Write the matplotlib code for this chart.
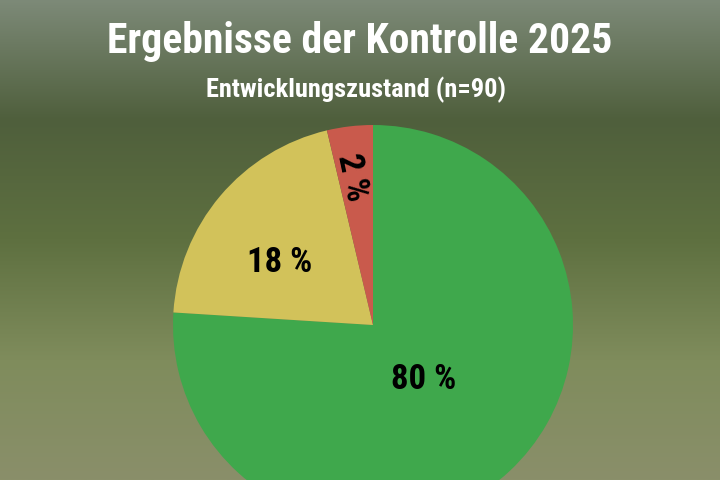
import matplotlib
matplotlib.use("Agg")
import matplotlib.pyplot as plt
import numpy as np
from matplotlib.colors import LinearSegmentedColormap
from matplotlib import font_manager

title = "Ergebnisse der Kontrolle 2025"
subtitle = "Entwicklungszustand (n=90)"
categories = ["gut", "mittel", "schlecht"]
labels = ["80 %", "18 %", "2 %"]
# slice shares as drawn in the reference graphic
values = [76, 20.3, 3.7]
colors = ["#3fa84c", "#d2c25a", "#c95a4c"]

names = {f.name for f in font_manager.fontManager.ttflist}
cond = [n for n in ["Liberation Sans Narrow", "DejaVu Sans Condensed", "Roboto Condensed"] if n in names]
fam = cond + ["DejaVu Sans"]
stretch = "condensed"

fig = plt.figure(figsize=(7.2, 4.81), dpi=100)
bg = fig.add_axes([0, 0, 1, 1])
cmap = LinearSegmentedColormap.from_list("bg", ["#7d8a78", "#4f5f3c", "#5e7040", "#7f8c5c", "#8a8f6a"])
grad = np.linspace(0, 1, 256).reshape(-1, 1)
bg.imshow(grad, aspect="auto", cmap=cmap, extent=[0, 1, 0, 1], origin="upper")
bg.axis("off")

ax = fig.add_axes([0, 0, 1, 1])
ax.pie(values, colors=colors, startangle=90, counterclock=False, radius=1.0,
       wedgeprops=dict(linewidth=0))
ax.set_xlim(-373/200, (720-373)/200)
ax.set_ylim(-155/200, 326/200)
ax.set_aspect("auto")
ax.axis("off")

pos = [(0.255, -0.27, 0), (-0.465, 0.315, 0), (-0.105, 0.745, -78)]
for lab, (x, y, r) in zip(labels, pos):
    ax.text(x, y, lab, ha="center", va="center", fontsize=25, fontweight="bold",
            family=fam, fontstretch=stretch, color="black", rotation=r)

fig.text(0.5, 0.913, title, ha="center", va="center", fontsize=30, fontweight="bold",
         family=fam, fontstretch=stretch, color="white")
fig.text(0.495, 0.813, subtitle, ha="center", va="center", fontsize=19, fontweight="bold",
         family=fam, fontstretch=stretch, color="white")
fig.savefig("out.png", dpi=100)
